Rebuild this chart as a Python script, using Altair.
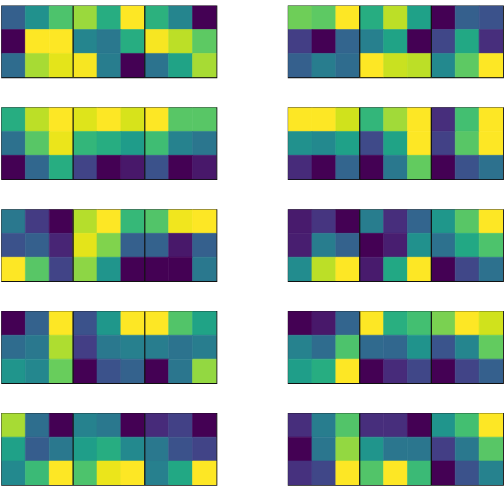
import altair as alt
import pandas as pd

# Each panel: 3 rows x 9 columns, values normalised per 3x3 block (0..1)
panel_1 = [
    [0.30, 0.50, 0.72, 0.85, 0.62, 1.00, 0.64, 0.45, 0.00],
    [0.00, 1.00, 1.00, 0.45, 0.40, 0.62, 0.99, 0.90, 0.75],
    [0.35, 0.87, 0.96, 0.99, 0.42, 0.00, 0.38, 0.58, 0.87],
]
panel_2 = [
    [0.78, 0.75, 1.00, 0.62, 0.90, 0.57, 0.00, 0.30, 0.25],
    [0.18, 0.00, 0.32, 0.43, 0.58, 0.00, 0.21, 0.60, 0.13],
    [0.30, 0.42, 0.35, 1.00, 0.92, 0.90, 0.47, 0.75, 1.00],
]
panel_3 = [
    [0.62, 0.90, 1.00, 0.95, 1.00, 0.94, 1.00, 0.74, 0.74],
    [0.37, 0.74, 0.97, 0.66, 0.62, 0.55, 0.69, 0.44, 0.39],
    [0.00, 0.33, 0.62, 0.20, 0.00, 0.06, 0.25, 0.00, 0.06],
]
panel_4 = [
    [1.00, 1.00, 0.93, 0.66, 0.86, 1.00, 0.13, 0.70, 1.00],
    [0.50, 0.47, 0.57, 0.22, 0.58, 1.00, 0.19, 0.74, 1.00],
    [0.12, 0.00, 0.32, 0.00, 0.40, 0.76, 0.00, 0.25, 0.37],
]
panel_5 = [
    [0.40, 0.17, 0.00, 0.89, 1.00, 0.67, 0.73, 0.98, 1.00],
    [0.25, 0.30, 0.10, 0.96, 0.81, 0.30, 0.31, 0.06, 0.30],
    [1.00, 0.74, 0.20, 0.83, 0.52, 0.00, 0.00, 0.00, 0.40],
]
panel_6 = [
    [0.07, 0.15, 0.00, 0.42, 0.13, 0.32, 0.53, 0.74, 1.00],
    [0.08, 0.42, 0.31, 0.00, 0.08, 0.50, 0.37, 0.60, 0.72],
    [0.48, 0.90, 1.00, 0.07, 0.60, 1.00, 0.00, 0.21, 0.37],
]
panel_7 = [
    [0.00, 0.31, 1.00, 0.25, 0.53, 1.00, 1.00, 0.73, 0.58],
    [0.35, 0.40, 0.88, 0.18, 0.40, 0.43, 0.42, 0.38, 0.42],
    [0.52, 0.46, 0.77, 0.00, 0.25, 0.31, 0.00, 0.39, 0.84],
]
panel_8 = [
    [0.00, 0.06, 0.32, 1.00, 0.63, 0.70, 0.80, 1.00, 0.93],
    [0.44, 0.35, 0.72, 0.34, 0.33, 0.51, 0.26, 0.45, 0.76],
    [0.56, 0.62, 1.00, 0.00, 0.12, 0.21, 0.00, 0.20, 0.30],
]
panel_9 = [
    [0.87, 0.36, 0.00, 0.44, 0.40, 0.00, 0.12, 0.19, 0.00],
    [0.57, 0.29, 0.40, 0.56, 0.62, 0.47, 0.40, 0.25, 0.20],
    [0.47, 0.68, 1.00, 0.72, 0.97, 1.00, 0.43, 0.60, 1.00],
]
panel_10 = [
    [0.13, 0.42, 0.73, 0.13, 0.13, 0.00, 0.52, 0.70, 1.00],
    [0.00, 0.39, 0.84, 0.52, 0.39, 0.39, 0.18, 0.40, 0.74],
    [0.14, 0.21, 1.00, 0.73, 1.00, 0.68, 0.00, 0.25, 0.44],
]

panels = [panel_1, panel_2, panel_3, panel_4, panel_5,
          panel_6, panel_7, panel_8, panel_9, panel_10]

rows = []
for p, grid in enumerate(panels):
    for r, line in enumerate(grid):
        for c, v in enumerate(line):
            rows.append({"prow": p // 2, "pcol": p % 2, "r": r, "c": c, "v": v})
df = pd.DataFrame(rows)

xscale = alt.Scale(domain=[0, 9], nice=False, zero=False)
yscale = alt.Scale(domain=[0, 3], nice=False, zero=False, reverse=True)
cscale = alt.Scale(scheme="viridis", domain=[0, 1])

rect = alt.Chart().mark_rect(strokeWidth=0.6, clip=True).transform_calculate(
    c1="datum.c + 1", r1="datum.r + 1"
).encode(
    x=alt.X("c:Q", scale=xscale, axis=None),
    x2="c1:Q",
    y=alt.Y("r:Q", scale=yscale, axis=None),
    y2="r1:Q",
    color=alt.Color("v:Q", scale=cscale, legend=None),
    stroke=alt.Stroke("v:Q", scale=cscale, legend=None),
)

rule = alt.Chart().mark_rule(color="#111111", strokeWidth=1.2, clip=True).transform_filter(
    "datum.r == 0 && (datum.c == 3 || datum.c == 6)"
).encode(
    x=alt.X("c:Q", scale=xscale, axis=None),
)

layered = alt.layer(rect, rule, data=df).properties(width=216, height=72)

chart = layered.facet(
    row=alt.Row("prow:O", header=alt.Header(title=None, labels=False)),
    column=alt.Column("pcol:O", header=alt.Header(title=None, labels=False)),
    spacing={"row": 30.4, "column": 72},
    bounds="flush",
).properties(
    padding={"left": 0.5, "top": 3.5, "right": 0, "bottom": 0},
    background="white",
).configure_view(
    stroke="#111111", strokeWidth=1.2
)

chart.save("out.html", embed_options={"renderer": "svg", "actions": False})
